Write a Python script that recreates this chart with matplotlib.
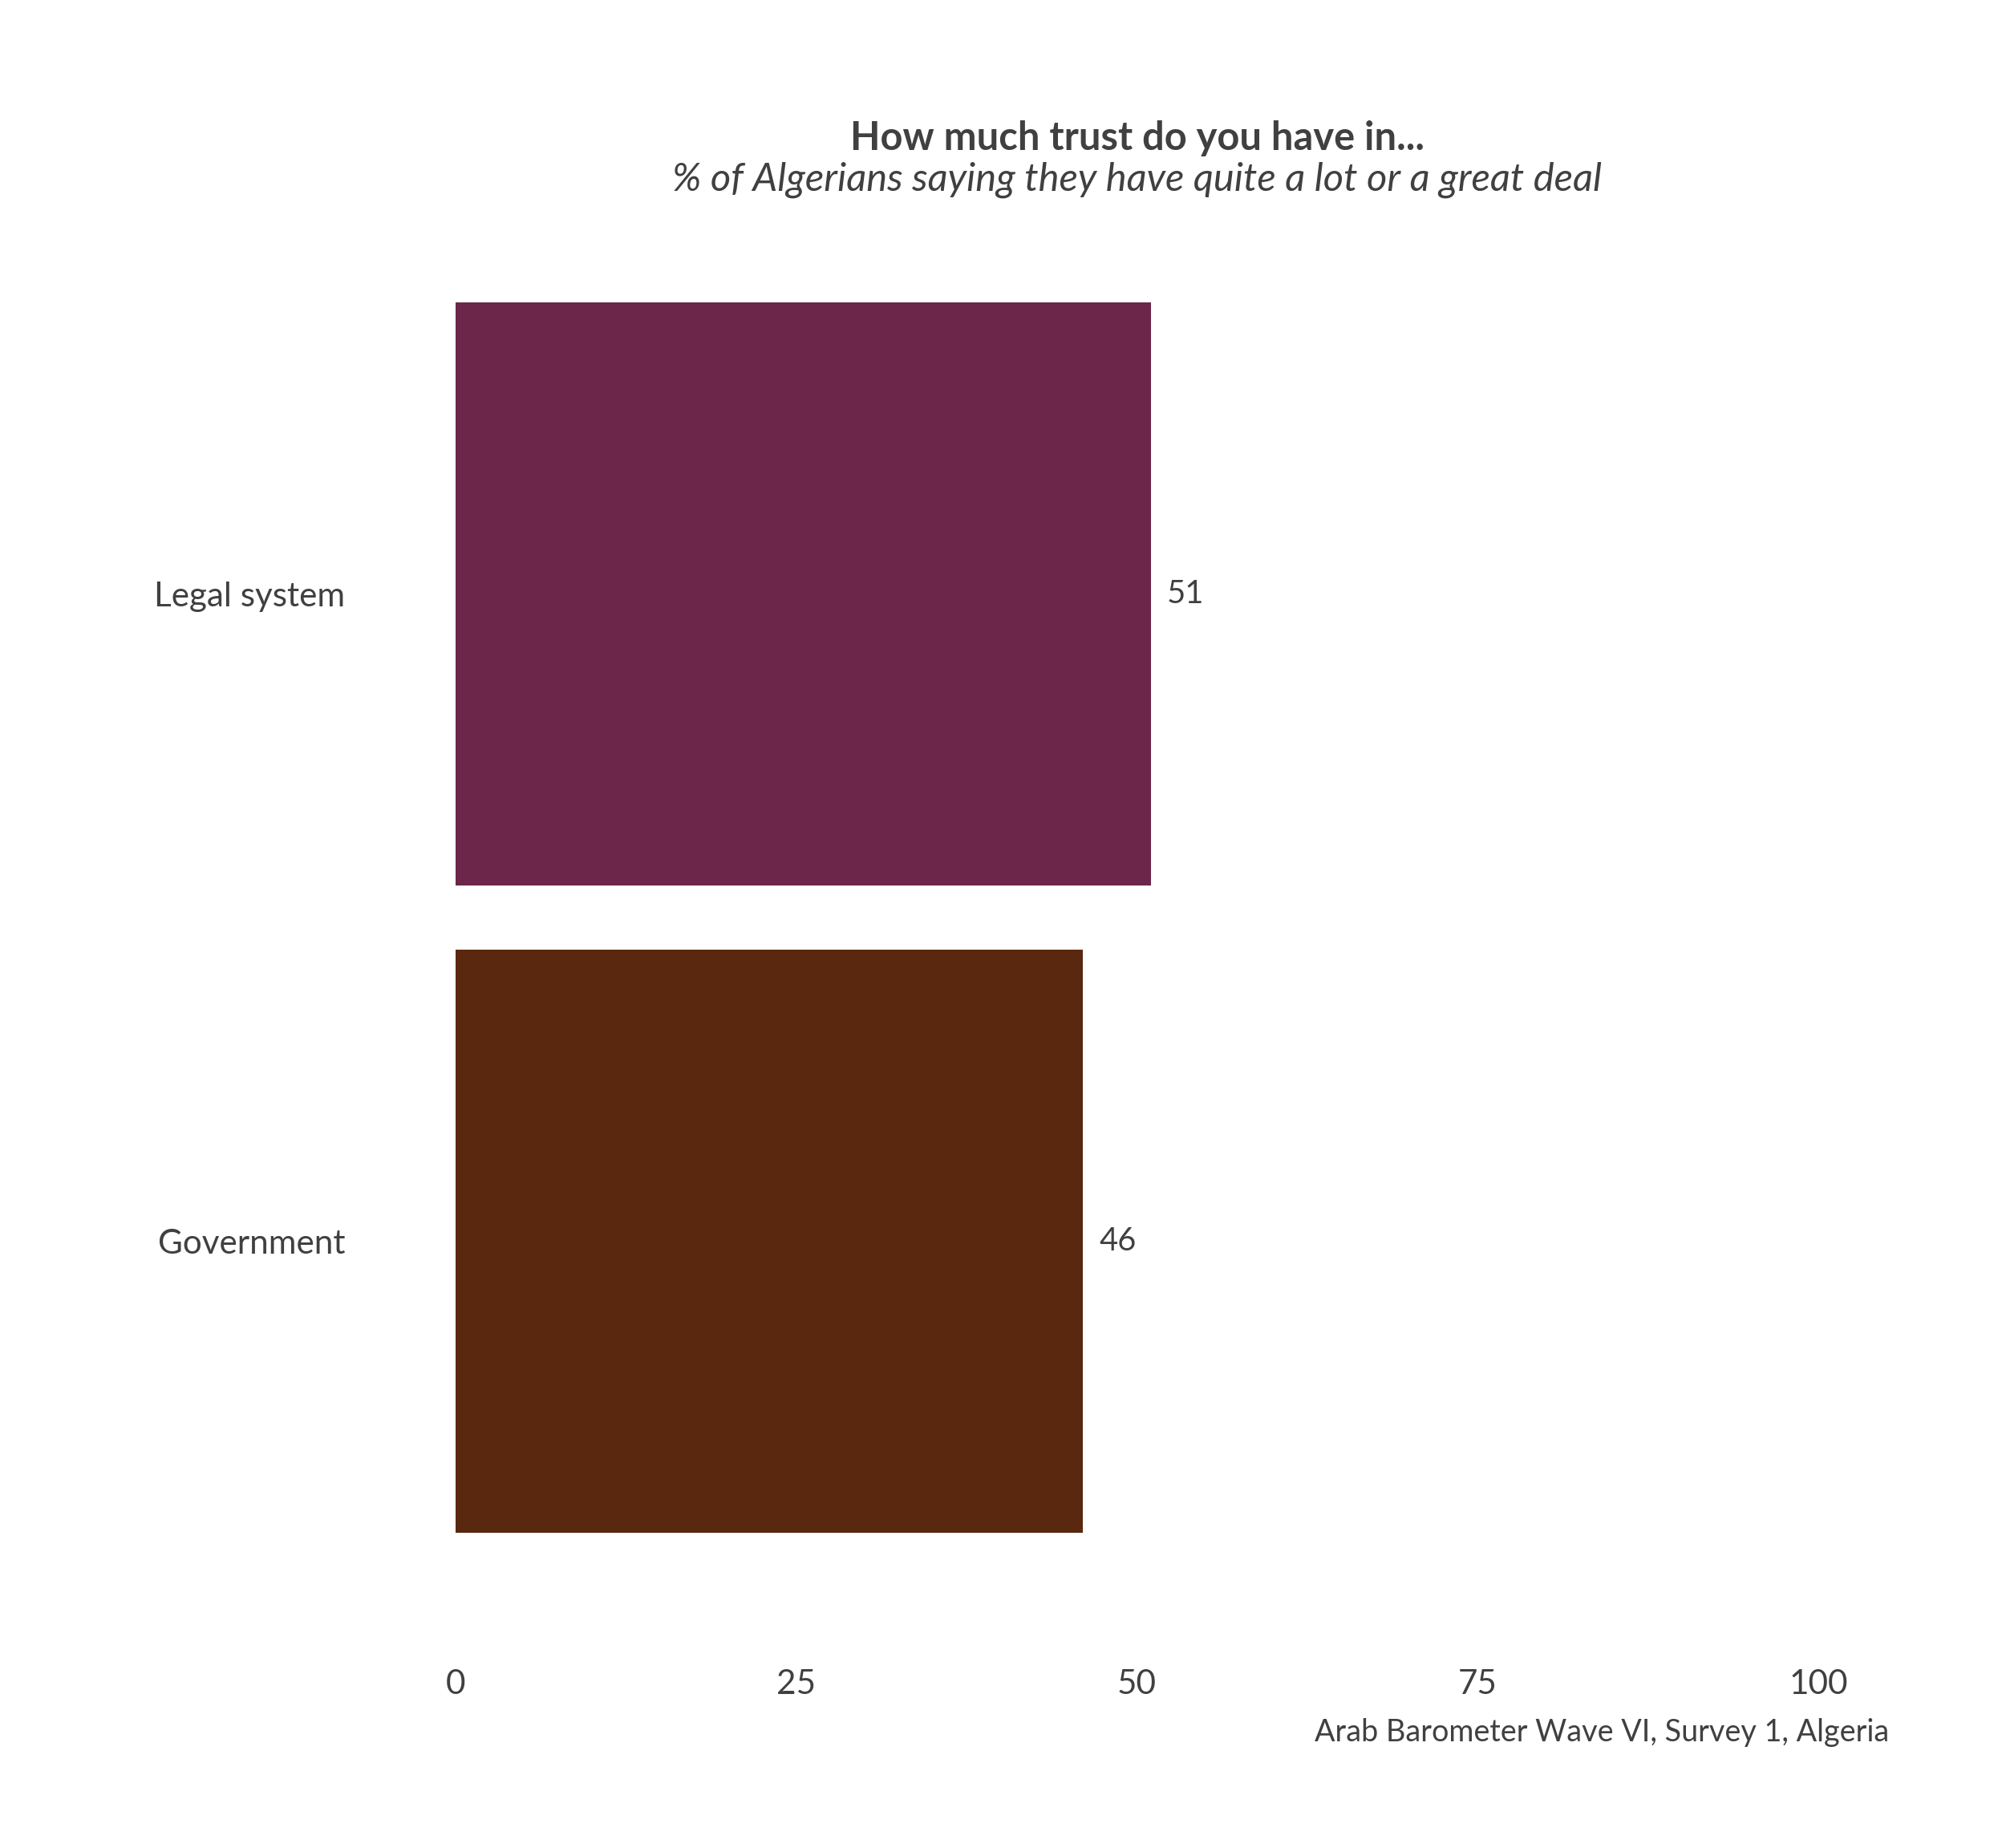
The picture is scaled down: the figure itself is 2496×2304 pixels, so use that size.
import matplotlib
matplotlib.use("Agg")
import matplotlib.pyplot as plt

categories = ["Government", "Legal system"]
values = [46, 51]
colors = ["#5A280F", "#6B264A"]
xticks = [0, 25, 50, 75, 100]

plt.rcParams['font.family'] = ['Lato', 'DejaVu Sans']
tc = "#404040"
fig = plt.figure(figsize=(15.6, 14.4), dpi=160)
ax = fig.add_axes([355/1560, 1-1270/1440, (1417-355)/1560, (1270-160)/1440])
ax.barh(range(len(categories)), values, height=0.9, color=colors)
for i, v in enumerate(values):
    ax.text(v + 1.2, i, f"{v}", va="center", ha="left", fontsize=18, color=tc)
ax.set_xlim(0, 100)
ax.set_ylim(-0.6, 1.6)
ax.set_yticks(range(len(categories)))
ax.set_yticklabels(categories, fontsize=19, color=tc)
ax.set_xticks(xticks)
ax.set_xticklabels([str(t) for t in xticks], fontsize=19, color=tc)
ax.tick_params(length=0, pad=22)
ax.tick_params(axis='y', pad=62)
for s in ax.spines.values():
    s.set_visible(False)
fig.text(886/1560, 1-108/1440, "How much trust do you have in...", ha="center", va="center",
         fontsize=22, fontweight="bold", color=tc)
fig.text(886/1560, 1-140/1440, "% of Algerians saying they have quite a lot or a great deal",
         ha="center", va="center", fontsize=22, style="italic", color=tc)
fig.text(1472/1560, 1-1350/1440, "Arab Barometer Wave VI, Survey 1, Algeria", ha="right",
         va="center", fontsize=17, color=tc)
fig.savefig("out.png", dpi=160, facecolor="white")
